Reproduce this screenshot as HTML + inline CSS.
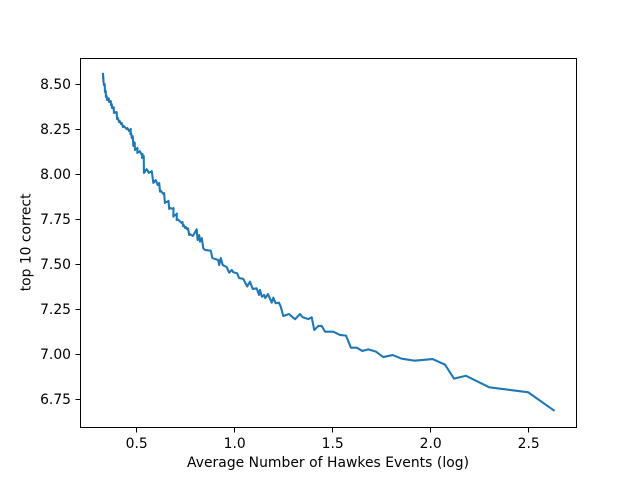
<!DOCTYPE html>
<html>
<head>
<meta charset="utf-8">
<style>
html,body{margin:0;padding:0;background:#fff;}
svg{display:block;}
text{font-family:"DejaVu Sans",sans-serif;font-size:13.89px;fill:#000;}
</style>
</head>
<body>
<svg id="chart" width="640" height="480" viewBox="0 0 640 480" xmlns="http://www.w3.org/2000/svg"></svg>
<script>
const xValues = [0.330,0.333,0.330,0.335,0.339,0.340,0.344,0.345,0.349,0.351,0.355,0.356,0.360,0.361,0.365,0.366,0.370,0.371,0.375,0.376,0.380,0.381,0.385,0.386,0.390,0.396,0.400,0.402,0.406,0.412,0.416,0.422,0.426,0.432,0.436,0.451,0.455,0.463,0.467,0.468,0.472,0.470,0.474,0.477,0.481,0.478,0.482,0.485,0.489,0.488,0.492,0.493,0.497,0.502,0.506,0.505,0.509,0.514,0.518,0.528,0.532,0.529,0.533,0.534,0.538,0.539,0.543,0.549,0.553,0.565,0.569,0.575,0.579,0.587,0.591,0.595,0.599,0.609,0.613,0.613,0.617,0.621,0.625,0.638,0.642,0.646,0.650,0.660,0.664,0.668,0.672,0.686,0.690,0.689,0.693,0.703,0.707,0.706,0.710,0.732,0.736,0.738,0.742,0.749,0.753,0.760,0.764,0.770,0.774,0.788,0.792,0.808,0.813,0.821,0.825,0.834,0.842,0.850,0.880,0.888,0.918,0.923,0.931,0.941,0.961,0.974,0.987,0.995,1.015,1.024,1.046,1.066,1.080,1.094,1.114,1.126,1.131,1.141,1.152,1.158,1.172,1.191,1.199,1.211,1.228,1.237,1.250,1.279,1.310,1.335,1.349,1.378,1.395,1.408,1.429,1.446,1.463,1.505,1.539,1.570,1.595,1.625,1.653,1.684,1.723,1.760,1.808,1.854,1.918,2.012,2.075,2.121,2.182,2.301,2.500,2.630];
const yValues = [8.556,8.522,8.539,8.494,8.499,8.456,8.461,8.428,8.433,8.411,8.416,8.415,8.420,8.400,8.405,8.400,8.405,8.383,8.388,8.367,8.372,8.365,8.370,8.339,8.344,8.339,8.344,8.306,8.311,8.289,8.294,8.278,8.283,8.261,8.266,8.250,8.255,8.239,8.244,8.245,8.250,8.222,8.227,8.200,8.205,8.205,8.210,8.156,8.161,8.170,8.175,8.133,8.138,8.140,8.145,8.117,8.122,8.122,8.127,8.106,8.111,8.090,8.095,8.095,8.100,8.006,8.011,8.022,8.027,8.006,8.011,8.011,8.016,7.950,7.955,7.961,7.966,7.939,7.944,7.945,7.950,7.902,7.907,7.889,7.894,7.839,7.844,7.846,7.851,7.806,7.811,7.806,7.811,7.763,7.768,7.775,7.780,7.744,7.749,7.728,7.733,7.711,7.716,7.700,7.705,7.693,7.698,7.661,7.666,7.656,7.661,7.693,7.633,7.661,7.624,7.644,7.587,7.578,7.574,7.533,7.522,7.494,7.533,7.494,7.483,7.452,7.467,7.454,7.448,7.422,7.417,7.375,7.402,7.361,7.365,7.328,7.356,7.318,7.328,7.311,7.333,7.285,7.313,7.282,7.285,7.263,7.211,7.222,7.193,7.222,7.204,7.194,7.204,7.133,7.156,7.156,7.124,7.124,7.106,7.102,7.035,7.035,7.017,7.026,7.013,6.983,6.994,6.974,6.963,6.972,6.941,6.863,6.879,6.815,6.787,6.687];
const xTickValues = [0.5,1.0,1.5,2.0,2.5];
const xTickLabels = ["0.5","1.0","1.5","2.0","2.5"];
const yTickValues = [6.75,7.00,7.25,7.50,7.75,8.00,8.25,8.50];
const yTickLabels = ["6.75","7.00","7.25","7.50","7.75","8.00","8.25","8.50"];

const plot = {left:80, right:576, top:57.6, bottom:427.2};
const xDomain = [0.2128, 2.7434];
const yDomain = [6.5933, 8.6467];
function xScale(v){ return plot.left + (v - xDomain[0]) / (xDomain[1] - xDomain[0]) * (plot.right - plot.left); }
function yScale(v){ return plot.bottom - (v - yDomain[0]) / (yDomain[1] - yDomain[0]) * (plot.bottom - plot.top); }
function snap(p){ return Math.round(p) + 0.5; }

const svg = document.getElementById('chart');
const NS = 'http://www.w3.org/2000/svg';
function make(tag, attrs, parent){
  const el = document.createElementNS(NS, tag);
  for (const k in attrs) el.setAttribute(k, attrs[k]);
  (parent || svg).appendChild(el);
  return el;
}

const background = make('rect', {x:0, y:0, width:640, height:480, fill:'#fff'});



const line = make('polyline', {
  points: xValues.map(function(v,i){ return xScale(v).toFixed(2) + ',' + yScale(yValues[i]).toFixed(2); }).join(' '),
  fill:'none', stroke:'#1f77b4', 'stroke-width':2.08, 'stroke-linejoin':'round', 'stroke-linecap':'square'
});



const frame = make('rect', {x:snap(plot.left), y:snap(plot.top), width:snap(plot.right)-snap(plot.left), height:snap(plot.bottom)-snap(plot.top), fill:'none', stroke:'#000', 'stroke-width':1});



xTickValues.forEach(function(v,i){
  const x = xScale(v);
  const tick = make('line', {x1:snap(x), x2:snap(x), y1:snap(plot.bottom), y2:snap(plot.bottom)+5, stroke:'#000', 'stroke-width':1});
  
  
  const label = make('text', {x:x+0.4, y:448, 'text-anchor':'middle'});
  label.textContent = xTickLabels[i];
  
  
});

yTickValues.forEach(function(v,i){
  const y = yScale(v);
  const tick = make('line', {x1:snap(plot.left)-5, x2:snap(plot.left), y1:snap(y), y2:snap(y), stroke:'#000', 'stroke-width':1});
  
  
  const label = make('text', {x:plot.left-9, y:Math.round(y)+5, 'text-anchor':'end'});
  label.textContent = yTickLabels[i];
  
  
});

const xTitle = make('text', {x:328, y:467, 'text-anchor':'middle', textLength:282});
xTitle.textContent = 'Average Number of Hawkes Events (log)';



const yTitle = make('text', {x:0, y:0, 'text-anchor':'middle', transform:'translate(30.5,242.4) rotate(-90)'});
yTitle.textContent = 'top 10 correct';


</script>
</body>
</html>
